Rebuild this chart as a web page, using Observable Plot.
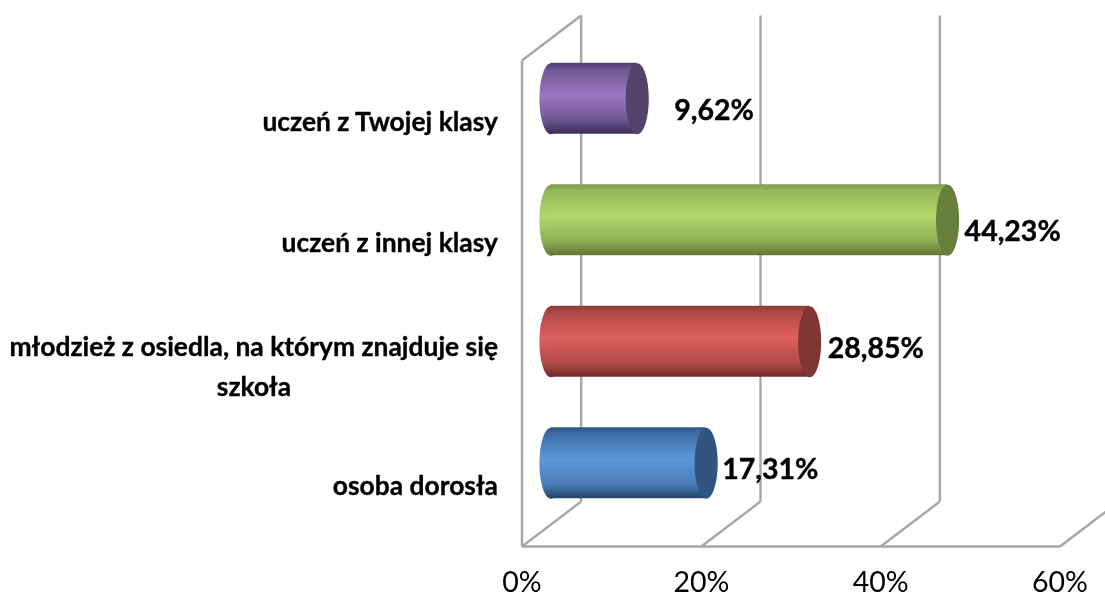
<!DOCTYPE html>
<html lang="pl">
<head>
<meta charset="utf-8">
<script src="https://cdn.jsdelivr.net/npm/d3@7"></script>
<script src="https://cdn.jsdelivr.net/npm/@observablehq/plot@0.6"></script>
<style>
html,body{margin:0;padding:0;background:#fff;overflow:hidden}
svg{display:block;filter:blur(0.5px)}
</style>
</head>
<body>
<div id="chart"></div>
<script>
// Data, bottom to top
const categories = ["osoba dorosła", "młodzież z osiedla, na którym znajduje się", "uczeń z innej klasy", "uczeń z Twojej klasy"];
const values = [17.31, 28.85, 44.23, 9.62];
const valueLabels = ["17,31%", "28,85%", "44,23%", "9,62%"];
const xTicks = [0, 20, 40, 60];
const wallTicks = [0, 20, 40];

// Styling and layout, kept apart from the data
const gridColor = "#a6a6a6";
const font = "Lato, Carlito, sans-serif";
const depthX = 6.6, depthY = 0.37;           // oblique wall depth in data units
const barShift = 3.23;
const barHalf = 0.292;
const labelNudge = [[45, 7], [47, 7], [46, 12], [66, 12]];
const ramps = [
  ["#2f5583", "#3f6ea8", "#5c97db", "#4a7db8", "#234364"],
  ["#8a3937", "#b24a48", "#dd605d", "#b24a48", "#702a29"],
  ["#7f9b4a", "#97b95b", "#b1d76d", "#8fae55", "#5f7735"],
  ["#4f3b72", "#705794", "#9a78c1", "#6f5693", "#3d2e57"]
];
const capColors = ["#315580", "#803535", "#677f3c", "#544369"];
const stops = [0, 0.1, 0.45, 0.8, 1];

const rows = categories.map((c, i) => ({
  category: c, value: values[i], label: valueLabels[i],
  mid: i + 0.5 + depthY / 2, x0: barShift, xEnd: values[i] + barShift,
  grad: `url(#ramp${i})`, cap: capColors[i]
}));

const capSymbol = {
  draw(ctx, size) {
    const ry = Math.sqrt(size / Math.PI), rx = ry * 0.325, k = 0.5523;
    ctx.moveTo(rx, 0);
    ctx.bezierCurveTo(rx, k * ry, k * rx, ry, 0, ry);
    ctx.bezierCurveTo(-k * rx, ry, -rx, k * ry, -rx, 0);
    ctx.bezierCurveTo(-rx, -k * ry, -k * rx, -ry, 0, -ry);
    ctx.bezierCurveTo(k * rx, -ry, rx, -k * ry, rx, 0);
    ctx.closePath();
  }
};

const defs = () => {
  const ns = "http://www.w3.org/2000/svg";
  const d = document.createElementNS(ns, "defs");
  ramps.forEach((ramp, i) => {
    const g = document.createElementNS(ns, "linearGradient");
    g.setAttribute("id", `ramp${i}`);
    g.setAttribute("x1", 0); g.setAttribute("x2", 0);
    g.setAttribute("y1", 0); g.setAttribute("y2", 1);
    ramp.forEach((col, j) => {
      const s = document.createElementNS(ns, "stop");
      s.setAttribute("offset", stops[j]);
      s.setAttribute("stop-color", col);
      g.appendChild(s);
    });
    d.appendChild(g);
  });
  return d;
};

const lineStyle = {stroke: gridColor, strokeWidth: 2.4};
const catStyle = {fontSize: 26.4, fontWeight: 700, fill: "#000", stroke: "#000", strokeWidth: 0.35};

const plot = Plot.plot({
  width: 1105,
  height: 597,
  marginLeft: 521.5,
  marginRight: 45.5,
  marginTop: 15,
  marginBottom: 51,
  style: {background: "#fff", fontFamily: font, color: "#000"},
  x: {domain: [0, 60], axis: null},
  y: {domain: [0, 4 + depthY], axis: null},
  color: {type: "identity"},
  marks: [
    defs,
    // back-wall verticals
    Plot.link(wallTicks, {x1: d => d + depthX, x2: d => d + depthX, y1: depthY, y2: 4 + depthY, ...lineStyle}),
    // floor diagonals
    Plot.link(xTicks, {x1: d => d, x2: d => d + depthX, y1: 0, y2: depthY, ...lineStyle}),
    // side wall top diagonal and front frame
    Plot.link([0], {x1: 0, x2: depthX, y1: 4, y2: 4 + depthY, ...lineStyle}),
    Plot.link([0], {x1: 0, x2: 0, y1: 0, y2: 4, ...lineStyle}),
    Plot.link([0], {x1: 0, x2: 60, y1: 0, y2: 0, ...lineStyle}),
    // cylinders
    Plot.dot(rows, {x: "x0", y: "mid", r: 35.5, symbol: capSymbol, fill: "grad", stroke: null}),
    Plot.rect(rows, {x1: "x0", x2: "xEnd", y1: d => d.mid - barHalf, y2: d => d.mid + barHalf, fill: "grad", inset: 0}),
    Plot.dot(rows, {x: "xEnd", y: "mid", r: 35.5, symbol: capSymbol, fill: "cap", stroke: null}),
    // value labels
    ...rows.map((d, i) => Plot.text([d], {
      x: "value", y: "mid", text: "label", textAnchor: "start",
      dx: labelNudge[i][0], dy: labelNudge[i][1],
      fontSize: 28.5, fontWeight: 700, fill: "#000", stroke: "#000", strokeWidth: 0.4
    })),
    // category labels
    Plot.text(rows.filter((d, i) => i !== 1), {
      x: 0, y: d => d.mid - depthY / 2, text: "category", textAnchor: "end",
      dx: -24, dy: 1, ...catStyle
    }),
    Plot.text([rows[1]], {
      x: 0, y: d => d.mid - depthY / 2, text: "category", textAnchor: "end",
      dx: -24, dy: -17, ...catStyle
    }),
    Plot.text([rows[1]], {
      x: 0, y: d => d.mid - depthY / 2, text: () => "szkoła", textAnchor: "middle",
      dx: -268, dy: 23, ...catStyle
    }),
    // x axis labels
    Plot.axisX(xTicks, {
      tickSize: 0, tickPadding: 25, tickFormat: d => d + "%",
      fontSize: 28.5, label: null, fill: "#000"
    })
  ]
});
document.getElementById("chart").appendChild(plot);
</script>
</body>
</html>
